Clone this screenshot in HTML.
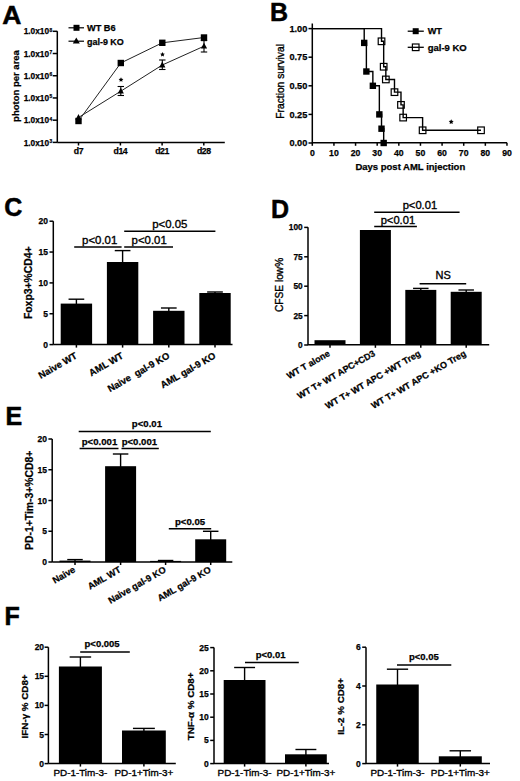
<!DOCTYPE html>
<html><head><meta charset="utf-8"><title>Figure</title>
<style>
html,body{margin:0;padding:0;background:#fff;}
body{width:520px;height:781px;overflow:hidden;}
svg{display:block;}
text{font-family:"Liberation Sans", sans-serif;fill:#000;}
</style></head><body>
<svg width="520" height="781" viewBox="0 0 520 781">
<rect x="0" y="0" width="520" height="781" fill="#fff"/>
<text x="2.30" y="23.80" font-size="26.5" font-weight="bold" stroke="#000" stroke-width="0.5" text-anchor="start">A</text>
<line x1="57.30" y1="31.20" x2="57.30" y2="142.50" stroke="#000" stroke-width="1.5"/>
<line x1="52.70" y1="142.40" x2="57.30" y2="142.40" stroke="#000" stroke-width="1.5"/>
<line x1="52.70" y1="120.18" x2="57.30" y2="120.18" stroke="#000" stroke-width="1.5"/>
<line x1="52.70" y1="97.96" x2="57.30" y2="97.96" stroke="#000" stroke-width="1.5"/>
<line x1="52.70" y1="75.74" x2="57.30" y2="75.74" stroke="#000" stroke-width="1.5"/>
<line x1="52.70" y1="53.52" x2="57.30" y2="53.52" stroke="#000" stroke-width="1.5"/>
<line x1="52.70" y1="31.30" x2="57.30" y2="31.30" stroke="#000" stroke-width="1.5"/>
<text x="49.10" y="145.50" font-size="8.3" font-weight="bold" stroke="#000" stroke-width="0.25" text-anchor="end">1.0x10</text>
<text x="49.50" y="142.90" font-size="4.8" font-weight="bold" stroke="#000" stroke-width="0.25" text-anchor="start">3</text>
<text x="49.10" y="123.28" font-size="8.3" font-weight="bold" stroke="#000" stroke-width="0.25" text-anchor="end">1.0x10</text>
<text x="49.50" y="120.68" font-size="4.8" font-weight="bold" stroke="#000" stroke-width="0.25" text-anchor="start">4</text>
<text x="49.10" y="101.06" font-size="8.3" font-weight="bold" stroke="#000" stroke-width="0.25" text-anchor="end">1.0x10</text>
<text x="49.50" y="98.46" font-size="4.8" font-weight="bold" stroke="#000" stroke-width="0.25" text-anchor="start">5</text>
<text x="49.10" y="78.84" font-size="8.3" font-weight="bold" stroke="#000" stroke-width="0.25" text-anchor="end">1.0x10</text>
<text x="49.50" y="76.24" font-size="4.8" font-weight="bold" stroke="#000" stroke-width="0.25" text-anchor="start">6</text>
<text x="49.10" y="56.62" font-size="8.3" font-weight="bold" stroke="#000" stroke-width="0.25" text-anchor="end">1.0x10</text>
<text x="49.50" y="54.02" font-size="4.8" font-weight="bold" stroke="#000" stroke-width="0.25" text-anchor="start">7</text>
<text x="49.10" y="34.40" font-size="8.3" font-weight="bold" stroke="#000" stroke-width="0.25" text-anchor="end">1.0x10</text>
<text x="49.50" y="31.80" font-size="4.8" font-weight="bold" stroke="#000" stroke-width="0.25" text-anchor="start">8</text>
<line x1="57.30" y1="142.50" x2="224.80" y2="142.50" stroke="#000" stroke-width="1.5"/>
<line x1="78.50" y1="142.50" x2="78.50" y2="145.50" stroke="#000" stroke-width="1.5"/>
<line x1="120.40" y1="142.50" x2="120.40" y2="145.50" stroke="#000" stroke-width="1.5"/>
<line x1="162.10" y1="142.50" x2="162.10" y2="145.50" stroke="#000" stroke-width="1.5"/>
<line x1="203.80" y1="142.50" x2="203.80" y2="145.50" stroke="#000" stroke-width="1.5"/>
<text x="78.50" y="154.00" font-size="8.7" font-weight="bold" stroke="#000" stroke-width="0.25" text-anchor="middle" letter-spacing="-0.4">d7</text>
<text x="120.40" y="154.00" font-size="8.7" font-weight="bold" stroke="#000" stroke-width="0.25" text-anchor="middle" letter-spacing="-0.4">d14</text>
<text x="162.10" y="154.00" font-size="8.7" font-weight="bold" stroke="#000" stroke-width="0.25" text-anchor="middle" letter-spacing="-0.4">d21</text>
<text x="203.80" y="154.00" font-size="8.7" font-weight="bold" stroke="#000" stroke-width="0.25" text-anchor="middle" letter-spacing="-0.4">d28</text>
<text transform="translate(18.80,86.00) rotate(-90)" font-size="9.5" font-weight="bold" stroke="#000" stroke-width="0.25" text-anchor="middle">photon per area</text>
<line x1="68.50" y1="27.80" x2="84.00" y2="27.80" stroke="#000" stroke-width="1.2"/>
<rect x="73.50" y="24.80" width="6.00" height="6.00" fill="#000"/>
<text x="87.00" y="31.00" font-size="9.2" font-weight="bold" stroke="#000" stroke-width="0.25" text-anchor="start">WT B6</text>
<line x1="68.50" y1="41.20" x2="84.00" y2="41.20" stroke="#000" stroke-width="1.2"/>
<path d="M76.3,37.6 L79.8,43.6 L72.8,43.6 Z" fill="#000"/>
<text x="87.00" y="44.50" font-size="8.95" font-weight="bold" stroke="#000" stroke-width="0.25" text-anchor="start">gal-9 KO</text>
<polyline points="78.5,121.0 120.8,63.0 162.3,42.8 204.0,37.5" fill="none" stroke="#222" stroke-width="1.0"/>
<polyline points="78.5,117.5 120.8,91.2 162.3,65.0 204.0,46.2" fill="none" stroke="#222" stroke-width="1.0"/>
<line x1="120.80" y1="86.50" x2="120.80" y2="95.50" stroke="#000" stroke-width="1.1"/>
<line x1="117.60" y1="86.50" x2="124.00" y2="86.50" stroke="#000" stroke-width="1.1"/>
<line x1="117.60" y1="95.50" x2="124.00" y2="95.50" stroke="#000" stroke-width="1.1"/>
<line x1="162.30" y1="60.00" x2="162.30" y2="69.50" stroke="#000" stroke-width="1.1"/>
<line x1="159.10" y1="60.00" x2="165.50" y2="60.00" stroke="#000" stroke-width="1.1"/>
<line x1="159.10" y1="69.50" x2="165.50" y2="69.50" stroke="#000" stroke-width="1.1"/>
<line x1="204.00" y1="40.60" x2="204.00" y2="52.00" stroke="#000" stroke-width="1.1"/>
<line x1="200.80" y1="40.60" x2="207.20" y2="40.60" stroke="#000" stroke-width="1.1"/>
<line x1="200.80" y1="52.00" x2="207.20" y2="52.00" stroke="#000" stroke-width="1.1"/>
<rect x="75.30" y="117.80" width="6.40" height="6.40" fill="#000"/>
<rect x="117.60" y="59.80" width="6.40" height="6.40" fill="#000"/>
<rect x="159.10" y="39.60" width="6.40" height="6.40" fill="#000"/>
<rect x="200.80" y="34.30" width="6.40" height="6.40" fill="#000"/>
<path d="M78.50,114.10 L81.60,119.90 L75.40,119.90 Z" fill="#000"/>
<path d="M120.80,87.80 L123.90,93.60 L117.70,93.60 Z" fill="#000"/>
<path d="M162.30,61.60 L165.40,67.40 L159.20,67.40 Z" fill="#000"/>
<path d="M204.00,42.80 L207.10,48.60 L200.90,48.60 Z" fill="#000"/>
<polygon points="121.00,77.30 121.73,78.79 123.38,79.03 122.19,80.19 122.47,81.82 121.00,81.05 119.53,81.82 119.81,80.19 118.62,79.03 120.27,78.79" fill="#000"/>
<polygon points="162.50,51.90 163.23,53.39 164.88,53.63 163.69,54.79 163.97,56.42 162.50,55.65 161.03,56.42 161.31,54.79 160.12,53.63 161.77,53.39" fill="#000"/>
<text x="270.00" y="21.00" font-size="25.0" font-weight="bold" stroke="#000" stroke-width="0.5" text-anchor="start">B</text>
<line x1="312.30" y1="23.50" x2="312.30" y2="143.00" stroke="#000" stroke-width="1.5"/>
<line x1="308.50" y1="28.60" x2="312.30" y2="28.60" stroke="#000" stroke-width="1.5"/>
<text x="307.30" y="31.80" font-size="9.2" font-weight="bold" stroke="#000" stroke-width="0.25" text-anchor="end">1.00</text>
<line x1="308.50" y1="57.20" x2="312.30" y2="57.20" stroke="#000" stroke-width="1.5"/>
<text x="307.30" y="60.40" font-size="9.2" font-weight="bold" stroke="#000" stroke-width="0.25" text-anchor="end">0.75</text>
<line x1="308.50" y1="85.80" x2="312.30" y2="85.80" stroke="#000" stroke-width="1.5"/>
<text x="307.30" y="89.00" font-size="9.2" font-weight="bold" stroke="#000" stroke-width="0.25" text-anchor="end">0.50</text>
<line x1="308.50" y1="114.40" x2="312.30" y2="114.40" stroke="#000" stroke-width="1.5"/>
<text x="307.30" y="117.60" font-size="9.2" font-weight="bold" stroke="#000" stroke-width="0.25" text-anchor="end">0.25</text>
<line x1="308.50" y1="143.00" x2="312.30" y2="143.00" stroke="#000" stroke-width="1.5"/>
<text x="307.30" y="146.20" font-size="9.2" font-weight="bold" stroke="#000" stroke-width="0.25" text-anchor="end">0.00</text>
<line x1="312.30" y1="142.80" x2="506.97" y2="142.80" stroke="#000" stroke-width="1.5"/>
<line x1="312.30" y1="142.80" x2="312.30" y2="145.80" stroke="#000" stroke-width="1.5"/>
<line x1="333.93" y1="142.80" x2="333.93" y2="145.80" stroke="#000" stroke-width="1.5"/>
<line x1="355.56" y1="142.80" x2="355.56" y2="145.80" stroke="#000" stroke-width="1.5"/>
<line x1="377.19" y1="142.80" x2="377.19" y2="145.80" stroke="#000" stroke-width="1.5"/>
<line x1="398.82" y1="142.80" x2="398.82" y2="145.80" stroke="#000" stroke-width="1.5"/>
<line x1="420.45" y1="142.80" x2="420.45" y2="145.80" stroke="#000" stroke-width="1.5"/>
<line x1="442.08" y1="142.80" x2="442.08" y2="145.80" stroke="#000" stroke-width="1.5"/>
<line x1="463.71" y1="142.80" x2="463.71" y2="145.80" stroke="#000" stroke-width="1.5"/>
<line x1="485.34" y1="142.80" x2="485.34" y2="145.80" stroke="#000" stroke-width="1.5"/>
<line x1="506.97" y1="142.80" x2="506.97" y2="145.80" stroke="#000" stroke-width="1.5"/>
<text x="312.30" y="155.80" font-size="8.7" font-weight="bold" stroke="#000" stroke-width="0.25" text-anchor="middle">0</text>
<text x="333.93" y="155.80" font-size="8.7" font-weight="bold" stroke="#000" stroke-width="0.25" text-anchor="middle">10</text>
<text x="355.56" y="155.80" font-size="8.7" font-weight="bold" stroke="#000" stroke-width="0.25" text-anchor="middle">20</text>
<text x="377.19" y="155.80" font-size="8.7" font-weight="bold" stroke="#000" stroke-width="0.25" text-anchor="middle">30</text>
<text x="398.82" y="155.80" font-size="8.7" font-weight="bold" stroke="#000" stroke-width="0.25" text-anchor="middle">40</text>
<text x="420.45" y="155.80" font-size="8.7" font-weight="bold" stroke="#000" stroke-width="0.25" text-anchor="middle">50</text>
<text x="442.08" y="155.80" font-size="8.7" font-weight="bold" stroke="#000" stroke-width="0.25" text-anchor="middle">60</text>
<text x="463.71" y="155.80" font-size="8.7" font-weight="bold" stroke="#000" stroke-width="0.25" text-anchor="middle">70</text>
<text x="485.34" y="155.80" font-size="8.7" font-weight="bold" stroke="#000" stroke-width="0.25" text-anchor="middle">80</text>
<text x="506.97" y="155.80" font-size="8.7" font-weight="bold" stroke="#000" stroke-width="0.25" text-anchor="middle">90</text>
<text x="410.30" y="169.60" font-size="9.5" font-weight="bold" stroke="#000" stroke-width="0.25" text-anchor="middle">Days post AML injection</text>
<text transform="translate(284.00,81.40) rotate(-90)" font-size="10.25" stroke="#000" stroke-width="0.35" text-anchor="middle">Fraction survival</text>
<polyline points="312.30,28.60 364.21,28.60 364.21,42.90 366.38,42.90 366.38,71.50 372.86,71.50 372.86,85.80 379.35,85.80 379.35,114.40 381.52,114.40 381.52,128.70 383.68,128.70 383.68,143.00" fill="none" stroke="#000" stroke-width="1.4"/>
<polyline points="312.30,28.60 381.52,28.60 381.52,41.31 383.68,41.31 383.68,66.73 385.84,66.73 385.84,79.44 394.49,79.44 394.49,92.16 400.98,92.16 400.98,104.87 403.15,104.87 403.15,117.58 422.61,117.58 422.61,130.29 481.01,130.29" fill="none" stroke="#000" stroke-width="1.4"/>
<rect x="361.01" y="39.70" width="6.40" height="6.40" fill="#000"/>
<rect x="363.18" y="68.30" width="6.40" height="6.40" fill="#000"/>
<rect x="369.66" y="82.60" width="6.40" height="6.40" fill="#000"/>
<rect x="376.15" y="111.20" width="6.40" height="6.40" fill="#000"/>
<rect x="378.32" y="125.50" width="6.40" height="6.40" fill="#000"/>
<rect x="380.48" y="139.80" width="6.40" height="6.40" fill="#000"/>
<rect x="378.22" y="38.01" width="6.6" height="6.6" fill="none" stroke="#000" stroke-width="1.2"/>
<rect x="380.38" y="63.43" width="6.6" height="6.6" fill="none" stroke="#000" stroke-width="1.2"/>
<rect x="382.54" y="76.14" width="6.6" height="6.6" fill="none" stroke="#000" stroke-width="1.2"/>
<rect x="391.19" y="88.86" width="6.6" height="6.6" fill="none" stroke="#000" stroke-width="1.2"/>
<rect x="397.68" y="101.57" width="6.6" height="6.6" fill="none" stroke="#000" stroke-width="1.2"/>
<rect x="399.85" y="114.28" width="6.6" height="6.6" fill="none" stroke="#000" stroke-width="1.2"/>
<rect x="419.31" y="126.99" width="6.6" height="6.6" fill="none" stroke="#000" stroke-width="1.2"/>
<rect x="477.71" y="126.99" width="6.6" height="6.6" fill="none" stroke="#000" stroke-width="1.2"/>
<polygon points="451.20,119.30 451.96,120.85 453.67,121.10 452.44,122.30 452.73,124.00 451.20,123.20 449.67,124.00 449.96,122.30 448.73,121.10 450.44,120.85" fill="#000"/>
<line x1="407.70" y1="31.20" x2="423.80" y2="31.20" stroke="#000" stroke-width="1.3"/>
<rect x="412.70" y="28.20" width="6.00" height="6.00" fill="#000"/>
<text x="427.70" y="34.40" font-size="9.2" font-weight="bold" stroke="#000" stroke-width="0.25" text-anchor="start">WT</text>
<line x1="407.70" y1="47.30" x2="423.80" y2="47.30" stroke="#000" stroke-width="1.3"/>
<rect x="412.4" y="44.0" width="6.6" height="6.6" fill="none" stroke="#000" stroke-width="1.2"/>
<text x="427.70" y="50.60" font-size="9.5" font-weight="bold" stroke="#000" stroke-width="0.25" text-anchor="start">gal-9 KO</text>
<text x="4.30" y="216.20" font-size="25.0" font-weight="bold" stroke="#000" stroke-width="0.5" text-anchor="start">C</text>
<line x1="53.30" y1="221.20" x2="53.30" y2="344.60" stroke="#000" stroke-width="1.5"/>
<line x1="49.50" y1="344.60" x2="53.30" y2="344.60" stroke="#000" stroke-width="1.5"/>
<text x="48.00" y="347.60" font-size="8.5" font-weight="bold" stroke="#000" stroke-width="0.25" text-anchor="end">0</text>
<line x1="49.50" y1="313.75" x2="53.30" y2="313.75" stroke="#000" stroke-width="1.5"/>
<text x="48.00" y="316.75" font-size="8.5" font-weight="bold" stroke="#000" stroke-width="0.25" text-anchor="end">5</text>
<line x1="49.50" y1="282.90" x2="53.30" y2="282.90" stroke="#000" stroke-width="1.5"/>
<text x="48.00" y="285.90" font-size="8.5" font-weight="bold" stroke="#000" stroke-width="0.25" text-anchor="end">10</text>
<line x1="49.50" y1="252.05" x2="53.30" y2="252.05" stroke="#000" stroke-width="1.5"/>
<text x="48.00" y="255.05" font-size="8.5" font-weight="bold" stroke="#000" stroke-width="0.25" text-anchor="end">15</text>
<line x1="49.50" y1="221.20" x2="53.30" y2="221.20" stroke="#000" stroke-width="1.5"/>
<text x="48.00" y="224.20" font-size="8.5" font-weight="bold" stroke="#000" stroke-width="0.25" text-anchor="end">20</text>
<line x1="53.30" y1="344.60" x2="232.50" y2="344.60" stroke="#000" stroke-width="1.5"/>
<line x1="76.40" y1="344.60" x2="76.40" y2="347.60" stroke="#000" stroke-width="1.5"/>
<line x1="122.60" y1="344.60" x2="122.60" y2="347.60" stroke="#000" stroke-width="1.5"/>
<line x1="168.80" y1="344.60" x2="168.80" y2="347.60" stroke="#000" stroke-width="1.5"/>
<line x1="215.00" y1="344.60" x2="215.00" y2="347.60" stroke="#000" stroke-width="1.5"/>
<line x1="76.40" y1="299.20" x2="76.40" y2="304.60" stroke="#000" stroke-width="1.4"/>
<line x1="68.55" y1="299.20" x2="84.25" y2="299.20" stroke="#000" stroke-width="1.4"/>
<rect x="60.70" y="303.60" width="31.40" height="41.00" fill="#000"/>
<line x1="122.60" y1="250.60" x2="122.60" y2="263.00" stroke="#000" stroke-width="1.4"/>
<line x1="114.75" y1="250.60" x2="130.45" y2="250.60" stroke="#000" stroke-width="1.4"/>
<rect x="106.90" y="262.00" width="31.40" height="82.60" fill="#000"/>
<line x1="168.80" y1="308.00" x2="168.80" y2="311.80" stroke="#000" stroke-width="1.4"/>
<line x1="160.95" y1="308.00" x2="176.65" y2="308.00" stroke="#000" stroke-width="1.4"/>
<rect x="153.10" y="310.80" width="31.40" height="33.80" fill="#000"/>
<line x1="215.00" y1="292.00" x2="215.00" y2="294.00" stroke="#000" stroke-width="1.4"/>
<line x1="207.15" y1="292.00" x2="222.85" y2="292.00" stroke="#000" stroke-width="1.4"/>
<rect x="199.30" y="293.00" width="31.40" height="51.60" fill="#000"/>
<line x1="74.20" y1="246.90" x2="121.60" y2="246.90" stroke="#000" stroke-width="1.5"/>
<text x="99.70" y="243.50" font-size="11.4" stroke="#000" stroke-width="0.35" text-anchor="middle">p&lt;0.01</text>
<line x1="124.20" y1="246.90" x2="173.00" y2="246.90" stroke="#000" stroke-width="1.5"/>
<text x="149.20" y="243.50" font-size="11.4" stroke="#000" stroke-width="0.35" text-anchor="middle">p&lt;0.01</text>
<line x1="124.20" y1="231.30" x2="215.40" y2="231.30" stroke="#000" stroke-width="1.5"/>
<text x="169.80" y="227.60" font-size="11.4" stroke="#000" stroke-width="0.35" text-anchor="middle">p&lt;0.05</text>
<text transform="translate(32.10,282.70) rotate(-90)" font-size="10.4" font-weight="bold" stroke="#000" stroke-width="0.25" text-anchor="middle">Foxp3+%CD4+</text>
<text transform="translate(77.90,357.50) rotate(-30)" font-size="9.5" font-weight="bold" stroke="#000" stroke-width="0.25" text-anchor="end">Naive WT</text>
<text transform="translate(124.10,357.50) rotate(-30)" font-size="9.5" font-weight="bold" stroke="#000" stroke-width="0.25" text-anchor="end">AML WT</text>
<text transform="translate(170.30,357.50) rotate(-30)" font-size="9.5" font-weight="bold" stroke="#000" stroke-width="0.25" text-anchor="end">Naive&#160;&#160;gal-9 KO</text>
<text transform="translate(216.50,357.50) rotate(-30)" font-size="9.5" font-weight="bold" stroke="#000" stroke-width="0.25" text-anchor="end">AML gal-9 KO</text>
<text x="271.00" y="217.70" font-size="25.0" font-weight="bold" stroke="#000" stroke-width="0.5" text-anchor="start">D</text>
<line x1="308.00" y1="227.30" x2="308.00" y2="345.00" stroke="#000" stroke-width="1.5"/>
<line x1="304.20" y1="345.00" x2="308.00" y2="345.00" stroke="#000" stroke-width="1.5"/>
<text x="302.70" y="348.00" font-size="8.3" font-weight="bold" stroke="#000" stroke-width="0.25" text-anchor="end">0</text>
<line x1="304.20" y1="315.60" x2="308.00" y2="315.60" stroke="#000" stroke-width="1.5"/>
<text x="302.70" y="318.60" font-size="8.3" font-weight="bold" stroke="#000" stroke-width="0.25" text-anchor="end">25</text>
<line x1="304.20" y1="286.20" x2="308.00" y2="286.20" stroke="#000" stroke-width="1.5"/>
<text x="302.70" y="289.20" font-size="8.3" font-weight="bold" stroke="#000" stroke-width="0.25" text-anchor="end">50</text>
<line x1="304.20" y1="256.80" x2="308.00" y2="256.80" stroke="#000" stroke-width="1.5"/>
<text x="302.70" y="259.80" font-size="8.3" font-weight="bold" stroke="#000" stroke-width="0.25" text-anchor="end">75</text>
<line x1="304.20" y1="227.40" x2="308.00" y2="227.40" stroke="#000" stroke-width="1.5"/>
<text x="302.70" y="230.40" font-size="8.3" font-weight="bold" stroke="#000" stroke-width="0.25" text-anchor="end">100</text>
<line x1="308.00" y1="344.80" x2="489.20" y2="344.80" stroke="#000" stroke-width="1.5"/>
<line x1="330.00" y1="344.80" x2="330.00" y2="347.80" stroke="#000" stroke-width="1.5"/>
<line x1="375.40" y1="344.80" x2="375.40" y2="347.80" stroke="#000" stroke-width="1.5"/>
<line x1="420.80" y1="344.80" x2="420.80" y2="347.80" stroke="#000" stroke-width="1.5"/>
<line x1="466.20" y1="344.80" x2="466.20" y2="347.80" stroke="#000" stroke-width="1.5"/>
<rect x="314.50" y="340.20" width="31.00" height="4.60" fill="#000"/>
<rect x="359.90" y="230.00" width="31.00" height="114.80" fill="#000"/>
<line x1="420.80" y1="288.40" x2="420.80" y2="290.90" stroke="#000" stroke-width="1.4"/>
<line x1="413.05" y1="288.40" x2="428.55" y2="288.40" stroke="#000" stroke-width="1.4"/>
<rect x="405.30" y="289.90" width="31.00" height="54.90" fill="#000"/>
<line x1="466.20" y1="290.00" x2="466.20" y2="292.80" stroke="#000" stroke-width="1.4"/>
<line x1="458.45" y1="290.00" x2="473.95" y2="290.00" stroke="#000" stroke-width="1.4"/>
<rect x="450.70" y="291.80" width="31.00" height="53.00" fill="#000"/>
<line x1="374.20" y1="212.30" x2="459.60" y2="212.30" stroke="#000" stroke-width="1.5"/>
<text x="419.90" y="209.30" font-size="11.2" stroke="#000" stroke-width="0.35" text-anchor="middle">p&lt;0.01</text>
<line x1="374.20" y1="226.60" x2="416.90" y2="226.60" stroke="#000" stroke-width="1.5"/>
<text x="397.90" y="223.80" font-size="11.2" stroke="#000" stroke-width="0.35" text-anchor="middle">p&lt;0.01</text>
<line x1="419.60" y1="283.80" x2="466.20" y2="283.80" stroke="#000" stroke-width="1.5"/>
<text x="443.10" y="279.40" font-size="11.0" stroke="#000" stroke-width="0.35" text-anchor="middle">NS</text>
<text transform="translate(283.30,284.90) rotate(-90)" font-size="10.2" stroke="#000" stroke-width="0.35" text-anchor="middle">CFSE low%</text>
<text transform="translate(330.50,355.20) rotate(-30)" font-size="9.0" font-weight="bold" stroke="#000" stroke-width="0.25" text-anchor="end">WT T alone</text>
<text transform="translate(375.90,355.20) rotate(-30)" font-size="9.0" font-weight="bold" stroke="#000" stroke-width="0.25" text-anchor="end">WT T+ WT APC+CD3</text>
<text transform="translate(421.30,355.20) rotate(-30)" font-size="9.0" font-weight="bold" stroke="#000" stroke-width="0.25" text-anchor="end">WT T+ WT APC +WT Treg</text>
<text transform="translate(466.70,355.20) rotate(-30)" font-size="9.0" font-weight="bold" stroke="#000" stroke-width="0.25" text-anchor="end">WT T+ WT APC +KO Treg</text>
<text x="5.50" y="424.90" font-size="25.0" font-weight="bold" stroke="#000" stroke-width="0.5" text-anchor="start">E</text>
<line x1="52.20" y1="439.00" x2="52.20" y2="562.00" stroke="#000" stroke-width="1.5"/>
<line x1="48.40" y1="562.00" x2="52.20" y2="562.00" stroke="#000" stroke-width="1.5"/>
<text x="46.90" y="565.00" font-size="8.5" font-weight="bold" stroke="#000" stroke-width="0.25" text-anchor="end">0</text>
<line x1="48.40" y1="531.25" x2="52.20" y2="531.25" stroke="#000" stroke-width="1.5"/>
<text x="46.90" y="534.25" font-size="8.5" font-weight="bold" stroke="#000" stroke-width="0.25" text-anchor="end">5</text>
<line x1="48.40" y1="500.50" x2="52.20" y2="500.50" stroke="#000" stroke-width="1.5"/>
<text x="46.90" y="503.50" font-size="8.5" font-weight="bold" stroke="#000" stroke-width="0.25" text-anchor="end">10</text>
<line x1="48.40" y1="469.75" x2="52.20" y2="469.75" stroke="#000" stroke-width="1.5"/>
<text x="46.90" y="472.75" font-size="8.5" font-weight="bold" stroke="#000" stroke-width="0.25" text-anchor="end">15</text>
<line x1="48.40" y1="439.00" x2="52.20" y2="439.00" stroke="#000" stroke-width="1.5"/>
<text x="46.90" y="442.00" font-size="8.5" font-weight="bold" stroke="#000" stroke-width="0.25" text-anchor="end">20</text>
<line x1="52.20" y1="562.00" x2="232.30" y2="562.00" stroke="#000" stroke-width="1.5"/>
<line x1="75.00" y1="562.00" x2="75.00" y2="565.00" stroke="#000" stroke-width="1.5"/>
<line x1="120.60" y1="562.00" x2="120.60" y2="565.00" stroke="#000" stroke-width="1.5"/>
<line x1="165.60" y1="562.00" x2="165.60" y2="565.00" stroke="#000" stroke-width="1.5"/>
<line x1="210.70" y1="562.00" x2="210.70" y2="565.00" stroke="#000" stroke-width="1.5"/>
<line x1="75.00" y1="559.60" x2="75.00" y2="561.60" stroke="#000" stroke-width="1.4"/>
<line x1="67.25" y1="559.60" x2="82.75" y2="559.60" stroke="#000" stroke-width="1.4"/>
<rect x="59.50" y="560.60" width="31.00" height="1.40" fill="#000"/>
<line x1="120.60" y1="454.00" x2="120.60" y2="467.20" stroke="#000" stroke-width="1.4"/>
<line x1="112.85" y1="454.00" x2="128.35" y2="454.00" stroke="#000" stroke-width="1.4"/>
<rect x="105.10" y="466.20" width="31.00" height="95.80" fill="#000"/>
<line x1="165.60" y1="560.50" x2="165.60" y2="561.90" stroke="#000" stroke-width="1.4"/>
<line x1="157.85" y1="560.50" x2="173.35" y2="560.50" stroke="#000" stroke-width="1.4"/>
<rect x="150.10" y="560.90" width="31.00" height="1.10" fill="#000"/>
<line x1="210.70" y1="531.30" x2="210.70" y2="540.30" stroke="#000" stroke-width="1.4"/>
<line x1="202.95" y1="531.30" x2="218.45" y2="531.30" stroke="#000" stroke-width="1.4"/>
<rect x="195.20" y="539.30" width="31.00" height="22.70" fill="#000"/>
<line x1="78.70" y1="431.50" x2="210.80" y2="431.50" stroke="#000" stroke-width="1.5"/>
<text x="146.90" y="426.70" font-size="9.6" font-weight="bold" stroke="#000" stroke-width="0.25" text-anchor="middle">p&lt;0.01</text>
<line x1="79.60" y1="448.50" x2="118.50" y2="448.50" stroke="#000" stroke-width="1.5"/>
<text x="99.50" y="445.00" font-size="9.6" font-weight="bold" stroke="#000" stroke-width="0.25" text-anchor="middle">p&lt;0.001</text>
<line x1="121.50" y1="448.50" x2="158.80" y2="448.50" stroke="#000" stroke-width="1.5"/>
<text x="139.40" y="445.00" font-size="9.6" font-weight="bold" stroke="#000" stroke-width="0.25" text-anchor="middle">p&lt;0.001</text>
<line x1="168.80" y1="528.80" x2="211.20" y2="528.80" stroke="#000" stroke-width="1.5"/>
<text x="190.00" y="525.40" font-size="9.6" font-weight="bold" stroke="#000" stroke-width="0.25" text-anchor="middle">p&lt;0.05</text>
<text transform="translate(33.00,500.30) rotate(-90)" font-size="10.4" font-weight="bold" stroke="#000" stroke-width="0.25" text-anchor="middle">PD-1+Tim-3+%CD8+</text>
<text transform="translate(76.00,571.50) rotate(-30)" font-size="9.2" font-weight="bold" stroke="#000" stroke-width="0.25" text-anchor="end">Naive</text>
<text transform="translate(121.60,571.50) rotate(-30)" font-size="9.2" font-weight="bold" stroke="#000" stroke-width="0.25" text-anchor="end">AML WT</text>
<text transform="translate(166.60,571.50) rotate(-30)" font-size="9.2" font-weight="bold" stroke="#000" stroke-width="0.25" text-anchor="end">Naive gal-9 KO</text>
<text transform="translate(211.70,571.50) rotate(-30)" font-size="9.2" font-weight="bold" stroke="#000" stroke-width="0.25" text-anchor="end">AML gal-9 KO</text>
<text x="4.50" y="625.30" font-size="25.0" font-weight="bold" stroke="#000" stroke-width="0.5" text-anchor="start">F</text>
<line x1="48.40" y1="647.20" x2="48.40" y2="763.60" stroke="#000" stroke-width="1.5"/>
<line x1="44.60" y1="763.60" x2="48.40" y2="763.60" stroke="#000" stroke-width="1.5"/>
<text x="44.10" y="766.60" font-size="8.5" font-weight="bold" stroke="#000" stroke-width="0.25" text-anchor="end">0</text>
<line x1="44.60" y1="734.50" x2="48.40" y2="734.50" stroke="#000" stroke-width="1.5"/>
<text x="44.10" y="737.50" font-size="8.5" font-weight="bold" stroke="#000" stroke-width="0.25" text-anchor="end">5</text>
<line x1="44.60" y1="705.40" x2="48.40" y2="705.40" stroke="#000" stroke-width="1.5"/>
<text x="44.10" y="708.40" font-size="8.5" font-weight="bold" stroke="#000" stroke-width="0.25" text-anchor="end">10</text>
<line x1="44.60" y1="676.30" x2="48.40" y2="676.30" stroke="#000" stroke-width="1.5"/>
<text x="44.10" y="679.30" font-size="8.5" font-weight="bold" stroke="#000" stroke-width="0.25" text-anchor="end">15</text>
<line x1="44.60" y1="647.20" x2="48.40" y2="647.20" stroke="#000" stroke-width="1.5"/>
<text x="44.10" y="650.20" font-size="8.5" font-weight="bold" stroke="#000" stroke-width="0.25" text-anchor="end">20</text>
<line x1="48.40" y1="763.60" x2="175.80" y2="763.60" stroke="#000" stroke-width="1.5"/>
<line x1="80.40" y1="763.60" x2="80.40" y2="766.60" stroke="#000" stroke-width="1.5"/>
<line x1="143.90" y1="763.60" x2="143.90" y2="766.60" stroke="#000" stroke-width="1.5"/>
<line x1="80.40" y1="657.00" x2="80.40" y2="667.50" stroke="#000" stroke-width="1.4"/>
<line x1="69.65" y1="657.00" x2="91.15" y2="657.00" stroke="#000" stroke-width="1.4"/>
<rect x="58.90" y="666.50" width="43.00" height="97.10" fill="#000"/>
<line x1="143.90" y1="728.40" x2="143.90" y2="731.50" stroke="#000" stroke-width="1.4"/>
<line x1="132.95" y1="728.40" x2="154.85" y2="728.40" stroke="#000" stroke-width="1.4"/>
<rect x="122.00" y="730.50" width="43.80" height="33.10" fill="#000"/>
<line x1="80.20" y1="652.10" x2="129.80" y2="652.10" stroke="#000" stroke-width="1.5"/>
<text x="102.10" y="647.10" font-size="9.5" font-weight="bold" stroke="#000" stroke-width="0.25" text-anchor="middle">p&lt;0.005</text>
<text transform="translate(28.10,706.40) rotate(-90)" font-size="9.8" font-weight="bold" stroke="#000" stroke-width="0.25" text-anchor="middle">IFN-&#947; % CD8+</text>
<text x="80.40" y="775.80" font-size="9.9" stroke="#000" stroke-width="0.35" text-anchor="middle">PD-1-Tim-3-</text>
<text x="143.90" y="775.80" font-size="9.9" stroke="#000" stroke-width="0.35" text-anchor="middle">PD-1+Tim-3+</text>
<line x1="214.00" y1="647.60" x2="214.00" y2="763.60" stroke="#000" stroke-width="1.5"/>
<line x1="210.20" y1="763.60" x2="214.00" y2="763.60" stroke="#000" stroke-width="1.5"/>
<text x="208.70" y="766.60" font-size="8.5" font-weight="bold" stroke="#000" stroke-width="0.25" text-anchor="end">0</text>
<line x1="210.20" y1="740.40" x2="214.00" y2="740.40" stroke="#000" stroke-width="1.5"/>
<text x="208.70" y="743.40" font-size="8.5" font-weight="bold" stroke="#000" stroke-width="0.25" text-anchor="end">5</text>
<line x1="210.20" y1="717.20" x2="214.00" y2="717.20" stroke="#000" stroke-width="1.5"/>
<text x="208.70" y="720.20" font-size="8.5" font-weight="bold" stroke="#000" stroke-width="0.25" text-anchor="end">10</text>
<line x1="210.20" y1="694.00" x2="214.00" y2="694.00" stroke="#000" stroke-width="1.5"/>
<text x="208.70" y="697.00" font-size="8.5" font-weight="bold" stroke="#000" stroke-width="0.25" text-anchor="end">15</text>
<line x1="210.20" y1="670.80" x2="214.00" y2="670.80" stroke="#000" stroke-width="1.5"/>
<text x="208.70" y="673.80" font-size="8.5" font-weight="bold" stroke="#000" stroke-width="0.25" text-anchor="end">20</text>
<line x1="210.20" y1="647.60" x2="214.00" y2="647.60" stroke="#000" stroke-width="1.5"/>
<text x="208.70" y="650.60" font-size="8.5" font-weight="bold" stroke="#000" stroke-width="0.25" text-anchor="end">25</text>
<line x1="214.00" y1="763.60" x2="329.00" y2="763.60" stroke="#000" stroke-width="1.5"/>
<line x1="244.60" y1="763.60" x2="244.60" y2="766.60" stroke="#000" stroke-width="1.5"/>
<line x1="305.90" y1="763.60" x2="305.90" y2="766.60" stroke="#000" stroke-width="1.5"/>
<line x1="244.60" y1="667.50" x2="244.60" y2="681.00" stroke="#000" stroke-width="1.4"/>
<line x1="234.15" y1="667.50" x2="255.05" y2="667.50" stroke="#000" stroke-width="1.4"/>
<rect x="223.70" y="680.00" width="41.80" height="83.60" fill="#000"/>
<line x1="305.90" y1="749.50" x2="305.90" y2="755.30" stroke="#000" stroke-width="1.4"/>
<line x1="295.45" y1="749.50" x2="316.35" y2="749.50" stroke="#000" stroke-width="1.4"/>
<rect x="285.00" y="754.30" width="41.80" height="9.30" fill="#000"/>
<line x1="245.00" y1="662.50" x2="298.80" y2="662.50" stroke="#000" stroke-width="1.5"/>
<text x="270.60" y="658.00" font-size="9.5" font-weight="bold" stroke="#000" stroke-width="0.25" text-anchor="middle">p&lt;0.01</text>
<text transform="translate(193.80,706.40) rotate(-90)" font-size="9.8" font-weight="bold" stroke="#000" stroke-width="0.25" text-anchor="middle">TNF-&#945; % CD8+</text>
<text x="244.60" y="775.80" font-size="9.9" stroke="#000" stroke-width="0.35" text-anchor="middle">PD-1-Tim-3-</text>
<text x="305.90" y="775.80" font-size="9.9" stroke="#000" stroke-width="0.35" text-anchor="middle">PD-1+Tim-3+</text>
<line x1="366.00" y1="647.20" x2="366.00" y2="763.60" stroke="#000" stroke-width="1.5"/>
<line x1="362.20" y1="763.60" x2="366.00" y2="763.60" stroke="#000" stroke-width="1.5"/>
<text x="360.70" y="766.60" font-size="8.5" font-weight="bold" stroke="#000" stroke-width="0.25" text-anchor="end">0</text>
<line x1="362.20" y1="724.80" x2="366.00" y2="724.80" stroke="#000" stroke-width="1.5"/>
<text x="360.70" y="727.80" font-size="8.5" font-weight="bold" stroke="#000" stroke-width="0.25" text-anchor="end">2</text>
<line x1="362.20" y1="686.00" x2="366.00" y2="686.00" stroke="#000" stroke-width="1.5"/>
<text x="360.70" y="689.00" font-size="8.5" font-weight="bold" stroke="#000" stroke-width="0.25" text-anchor="end">4</text>
<line x1="362.20" y1="647.20" x2="366.00" y2="647.20" stroke="#000" stroke-width="1.5"/>
<text x="360.70" y="650.20" font-size="8.5" font-weight="bold" stroke="#000" stroke-width="0.25" text-anchor="end">6</text>
<line x1="366.00" y1="763.60" x2="490.00" y2="763.60" stroke="#000" stroke-width="1.5"/>
<line x1="397.50" y1="763.60" x2="397.50" y2="766.60" stroke="#000" stroke-width="1.5"/>
<line x1="460.30" y1="763.60" x2="460.30" y2="766.60" stroke="#000" stroke-width="1.5"/>
<line x1="397.50" y1="669.20" x2="397.50" y2="685.50" stroke="#000" stroke-width="1.4"/>
<line x1="386.88" y1="669.20" x2="408.12" y2="669.20" stroke="#000" stroke-width="1.4"/>
<rect x="376.25" y="684.50" width="42.50" height="79.10" fill="#000"/>
<line x1="460.30" y1="750.80" x2="460.30" y2="757.30" stroke="#000" stroke-width="1.4"/>
<line x1="449.55" y1="750.80" x2="471.05" y2="750.80" stroke="#000" stroke-width="1.4"/>
<rect x="438.80" y="756.30" width="43.00" height="7.30" fill="#000"/>
<line x1="397.00" y1="665.00" x2="451.30" y2="665.00" stroke="#000" stroke-width="1.5"/>
<text x="423.80" y="660.00" font-size="9.5" font-weight="bold" stroke="#000" stroke-width="0.25" text-anchor="middle">p&lt;0.05</text>
<text transform="translate(344.00,706.40) rotate(-90)" font-size="9.8" font-weight="bold" stroke="#000" stroke-width="0.25" text-anchor="middle">IL-2 % CD8+</text>
<text x="397.50" y="775.80" font-size="9.9" stroke="#000" stroke-width="0.35" text-anchor="middle">PD-1-Tim-3-</text>
<text x="460.30" y="775.80" font-size="9.9" stroke="#000" stroke-width="0.35" text-anchor="middle">PD-1+Tim-3+</text>
</svg>
</body></html>
